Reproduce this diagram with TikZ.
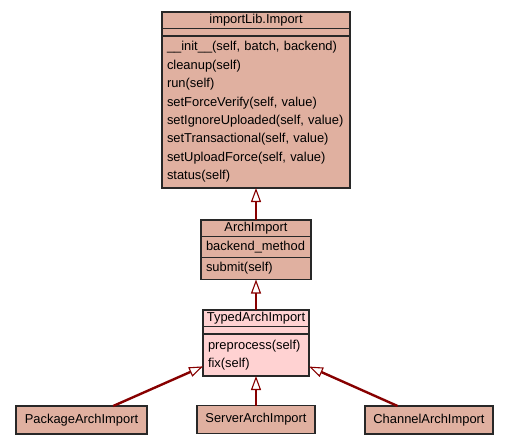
\documentclass[tikz,border=0pt]{standalone}
\usepackage{fontspec}
\setmainfont{Liberation Sans}
\usetikzlibrary{arrows.meta}
\definecolor{classfill}{RGB}{224,176,160}
\definecolor{basefill}{RGB}{255,210,210}
\definecolor{boxgray}{RGB}{40,40,40}
\definecolor{edgered}{RGB}{135,0,0}
\begin{document}
\begin{tikzpicture}[x=1pt, y=-1pt,
    font=\fontsize{12.9}{18.4}\selectfont,
    classbox/.style={draw=boxgray, line width=1.2pt, fill=classfill, inner sep=0pt, outer sep=0pt},
    compartment/.style={draw=boxgray, line width=1.2pt, inner sep=0pt, outer sep=0pt, anchor=north},
    memberlist/.style={compartment, align=left, inner xsep=5pt},
    inherits/.style={draw=edgered, line width=2.4pt,
        -{Triangle[length=14pt, width=10pt, fill=white, line width=1.1pt]}}]
   \useasboundingbox (0,0) rectangle (509,445);
   % importLib.Import
   \node[classbox, minimum width=188, minimum height=176] (import) at (256,100) {};
   \node[compartment, minimum width=188, minimum height=16.5] (importtitle) at (import.north) {importLib.Import};
   \node[compartment, minimum width=188, minimum height=7.5] (importattr) at (importtitle.south) {};
   \node[memberlist, minimum width=188, text width=178, minimum height=152] (importops) at (importattr.south)
      {\_\_init\_\_(self, batch, backend)\\cleanup(self)\\run(self)\\setForceVerify(self, value)\\
       setIgnoreUploaded(self, value)\\setTransactional(self, value)\\setUploadForce(self, value)\\status(self)};
   % ArchImport
   \node[classbox, minimum width=110, minimum height=59.5] (archimport) at (256,249.75) {};
   \node[compartment, minimum width=110, minimum height=16.5] (archtitle) at (archimport.north) {ArchImport};
   \node[memberlist, minimum width=110, text width=100, minimum height=21] (archattr) at (archtitle.south) {backend\_method};
   \node[memberlist, minimum width=110, text width=100, minimum height=22] (archops) at (archattr.south) {submit(self)};
   % TypedArchImport
   \node[classbox, fill=basefill, minimum width=106, minimum height=66] (typed) at (256,343) {};
   \node[compartment, minimum width=106, minimum height=16.5] (typedtitle) at (typed.north) {TypedArchImport};
   \node[compartment, minimum width=106, minimum height=7.5] (typedattr) at (typedtitle.south) {};
   \node[memberlist, minimum width=106, text width=96, minimum height=42] (typedops) at (typedattr.south)
      {preprocess(self)\\fix(self)};
   % subclasses
   \node[classbox, minimum width=131, minimum height=28] (package) at (81.5,420) {PackageArchImport};
   \node[classbox, minimum width=118, minimum height=28] (server) at (256,419.5) {ServerArchImport};
   \node[classbox, minimum width=128, minimum height=28] (channel) at (429,420) {ChannelArchImport};
   \draw[inherits] (archimport) to (import);
   \draw[inherits] (typed) to (archimport);
   \draw[inherits] (package) to (typed);
   \draw[inherits] (server) to (typed);
   \draw[inherits] (channel) to (typed);
\end{tikzpicture}
\end{document}
